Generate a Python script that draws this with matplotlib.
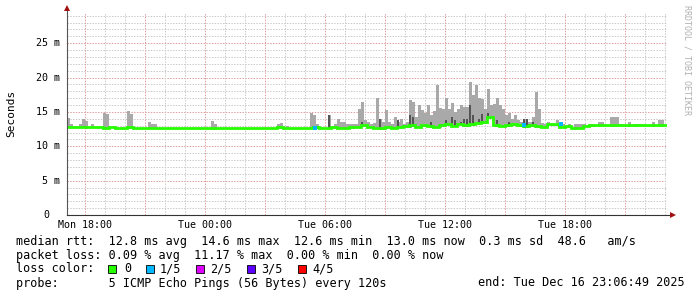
#!/usr/bin/env python3
"""Smokeping style latency graph (median rtt + smoke) redrawn with matplotlib."""

import numpy as np
import matplotlib
matplotlib.use("Agg")
import matplotlib.pyplot as plt
from matplotlib.patches import Rectangle

W, H = 697, 297
MONO = "DejaVu Sans Mono"

# time axis: hours since graph start (Mon 17:06:49), 30 hours shown
span_hours = 30.0
first_label_hour = 53 / 60 + 11 / 3600  # Mon 18:00
tick_labels = ["Mon 18:00", "Tue 00:00", "Tue 06:00", "Tue 12:00", "Tue 18:00"]
ytick_values = [0, 5, 10, 15, 20, 25]
ytick_labels = ["0", "5 m", "10 m", "15 m", "20 m", "25 m"]
y_top = 29.4

# median rtt (ms), one value per 18 minutes
median_step = 0.3
median_ms = [
    12.8, 12.8, 12.8, 12.75, 12.8, 12.75, 12.7, 12.75, 12.7, 12.7,
    12.75, 12.7, 12.7, 12.65, 12.7, 12.7, 12.7, 12.7, 12.65, 12.7,
    12.65, 12.7, 12.7, 12.65, 12.6, 12.7, 12.65, 12.7, 12.7, 12.6,
    12.7, 12.65, 12.7, 12.7, 12.7, 12.75, 12.7, 12.7, 12.65, 12.7,
    12.7, 12.75, 12.7, 12.7, 12.75, 12.7, 12.7, 12.75, 12.8, 13.1,
    12.8, 12.7, 12.6, 12.85, 12.7, 12.85, 12.9, 13.1, 12.8, 13.05,
    12.95, 12.85, 13.1, 13.2, 13.0, 13.3, 13.1, 13.2, 13.4, 13.5,
    14.2, 13.05, 12.95, 13.05, 13.2, 13.05, 12.95, 13.05, 12.9, 12.85,
    13.25, 13.2, 12.85, 12.9, 12.6, 12.7, 12.95, 13.05, 13.05, 13.1,
    13.05, 13.05, 13.1, 13.05, 13.05, 13.1, 13.05, 13.05, 13.1, 13.05,
]

# top of the light smoke (ms), one value per 9 minutes, 0 = no smoke
smoke_step = 0.15
smoke_ms = [
    14.05, 13.2, 0, 0, 13.3, 13.9, 13.7, 0, 13.2, 0,
    0, 0, 14.9, 14.7, 0, 0, 0, 0, 0, 0,
    15.15, 14.7, 0, 0, 0, 0, 0, 13.55, 13.3, 13.2,
    0, 0, 0, 0, 0, 0, 0, 0, 0, 0,
    0, 0, 0, 0, 0, 0, 0, 0, 13.7, 13.3,
    0, 0, 0, 0, 0, 0, 0, 0, 0, 0,
    0, 0, 0, 0, 0, 0, 0, 0, 0, 0,
    13.2, 13.4, 0, 13.0, 0, 0, 0, 0, 0, 0,
    0, 14.9, 14.5, 13.2, 0, 0, 0, 14.6, 0, 13.2,
    13.95, 13.6, 13.6, 13.2, 13.3, 13.3, 13.2, 15.4, 16.5, 13.8,
    13.6, 13.2, 13.4, 17.0, 14.0, 13.6, 15.3, 13.6, 13.3, 14.3,
    13.6, 14.0, 13.3, 13.6, 16.8, 16.5, 14.3, 16.0, 15.3, 14.8,
    16.0, 14.5, 15.2, 18.9, 15.6, 15.4, 17.0, 15.5, 16.3, 15.0,
    15.5, 16.0, 15.7, 15.7, 19.4, 17.4, 18.9, 17.0, 16.9, 15.5,
    18.4, 16.0, 16.2, 17.0, 16.0, 15.5, 14.5, 14.8, 14.0, 14.5,
    13.8, 13.6, 14.0, 13.6, 13.6, 14.2, 17.9, 15.5, 13.4, 13.3,
    13.6, 13.0, 13.3, 13.8, 13.2, 13.3, 0, 13.3, 0, 13.3,
    13.3, 13.3, 13.3, 0, 13.3, 13.3, 0, 13.5, 13.5, 0,
    0, 14.3, 14.3, 14.3, 13.3, 0, 0, 13.6, 0, 13.3,
    13.3, 13.3, 0, 0, 0, 13.5, 0, 13.8, 13.8, 0,
]

# darker inner smoke: smoke bin index and top (ms)
dark_bins = [87, 98, 104, 110, 114, 115, 121, 126, 128, 129, 131, 132, 133,
             134, 135, 137, 138, 140, 141, 143, 147, 152, 153, 155, 164]
dark_ms = [14.6, 13.6, 14.0, 13.8, 14.5, 14.2, 13.6, 13.8, 14.2, 13.8, 13.6,
           14.0, 13.9, 16.0, 14.5, 14.0, 14.7, 14.8, 14.0, 13.8, 13.6, 13.9,
           14.0, 13.5, 13.5]

# samples with 1/5 packet loss
loss_hours = [12.4, 22.85, 24.7]
loss_ms = [12.7, 13.1, 13.2]

loss_colors = ["#26ff00", "#00b8ff", "#dd00ff", "#5e00ff", "#ff0000"]
loss_names = ["0", "1/5", "2/5", "3/5", "4/5"]

legend_rows = [
    "median rtt:  12.8 ms avg  14.6 ms max  12.6 ms min  13.0 ms now  0.3 ms sd  48.6   am/s",
    "packet loss: 0.09 % avg  11.17 % max  0.00 % min  0.00 % now",
    "loss color:",
    "probe:       5 ICMP Echo Pings (56 Bytes) every 120s",
]
end_text = "end: Tue Dec 16 23:06:49 2025"


def px(x, y):
    """pixel position (from top left) -> figure fraction"""
    return x / W, 1 - y / H


plt.rcParams["lines.scale_dashes"] = False
fig = plt.figure(figsize=(W / 100, H / 100), dpi=100)
fig.patch.set_facecolor("white")
ax = fig.add_axes([67 / W, 1 - 215 / H, 600 / W, 202 / H])
ax.set_xlim(0, span_hours)
ax.set_ylim(0, y_top)
for s in ax.spines.values():
    s.set_visible(False)
ax.set_yticks([])

# grid
dots = (0, (1.0, 1.0))
for v in np.arange(1, y_top, 1):
    major = v % 5 == 0
    ax.axhline(v, color="#e29a9a" if major else "#c8c8c8", lw=0.7,
               ls=dots, zorder=1)
for h in np.arange(first_label_hour - 0, span_hours, 1.0):
    major = round((h - first_label_hour)) % 3 == 0
    ax.axvline(h, color="#e29a9a" if major else "#c8c8c8", lw=0.7,
               ls=dots, zorder=1)

# smoke
bar_w = smoke_step
median = np.array(median_ms)
smoke = np.array(smoke_ms)
k = np.nonzero(smoke > 0)[0]
base = median[(k * smoke_step / median_step).astype(int)] - 0.2
ax.bar(k * smoke_step, smoke[k] - base, bottom=base, width=bar_w,
       align="edge", color="#a9a9a9", linewidth=0, zorder=2)
db = np.array(dark_bins)
dbase = median[(db * smoke_step / median_step).astype(int)] - 0.25
ax.bar(db * smoke_step, np.array(dark_ms) - dbase, bottom=dbase,
       width=bar_w * 0.7, align="edge", color="#555555", linewidth=0, zorder=3)

# median line
edges = np.arange(len(median) + 1) * median_step
ax.step(edges, np.append(median, median[-1]), where="post",
        color=loss_colors[0], lw=2.0, zorder=4, solid_joinstyle="miter")
ax.plot(loss_hours, loss_ms, ls="none", marker="s", ms=2.3, mew=0,
        color=loss_colors[1], zorder=5)

# axes with arrows
ax.plot([0, 0], [0, 1.02], transform=ax.transAxes, color="#555555",
        lw=0.8, clip_on=False, zorder=6)
ax.plot([0, 1.008], [0, 0], transform=ax.transAxes, color="#333333",
        lw=0.8, clip_on=False, zorder=6)
ax.plot([0], [1.025], transform=ax.transAxes, marker="^", ms=4, mew=0,
        color="#a01010", clip_on=False, zorder=7)
ax.plot([1.01], [0], transform=ax.transAxes, marker=">", ms=4, mew=0,
        color="#a01010", clip_on=False, zorder=7)

# tick labels
ax.set_xticks(first_label_hour + 6 * np.arange(len(tick_labels)))
ax.set_xticklabels(tick_labels, family=MONO, fontsize=7.2)
ax.tick_params(axis="x", length=0, pad=3.5)
ytrans = ax.get_yaxis_transform()
for v, lab in zip(ytick_values, ytick_labels):
    xr = -0.0295 if v == 0 else -0.011
    ax.text(xr, v, lab, transform=ytrans, ha="right", va="center",
            family=MONO, fontsize=7.2)

fig.text(*px(11, 113), "Seconds", rotation=90, ha="center", va="center",
         family=MONO, fontsize=8)
fig.text(*px(686.5, 60), "RRDTOOL / TOBI OETIKER", rotation=270,
         ha="center", va="center", family=MONO, fontsize=6, color="#b0b0b0")

# legend
for i, row in enumerate(legend_rows):
    fig.text(*px(16, 241 + 14 * i), row, ha="left", va="center",
             family=MONO, fontsize=8.45)
fig.text(*px(478, 283), end_text, ha="left", va="center",
         family=MONO, fontsize=8.45)
box_x = [108, 146, 196, 247, 298]
name_x = [124, 160, 210, 261, 312]
for bx, nx, c, name in zip(box_x, name_x, loss_colors, loss_names):
    fig.add_artist(Rectangle(px(bx, 273), 8 / W, 8 / H, transform=fig.transFigure,
                             facecolor=c, edgecolor="black", lw=0.6))
    fig.text(*px(nx, 269), name, ha="left", va="center", family=MONO,
             fontsize=8.45)

fig.savefig("out.png", dpi=100, facecolor="white")
